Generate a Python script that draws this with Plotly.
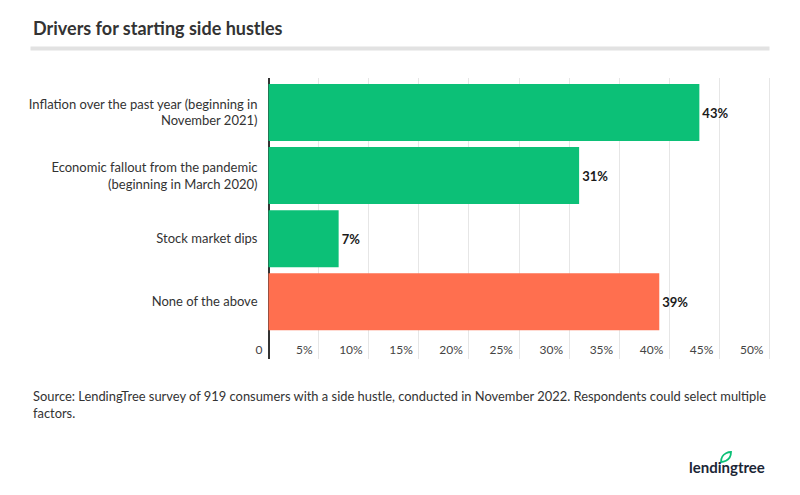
import plotly.graph_objects as go

categories = [
    "Inflation over the past year (beginning in<br>November 2021)",
    "Economic fallout from the pandemic<br>(beginning in March 2020)",
    "Stock market dips",
    "None of the above",
]
values = [43, 31, 7, 39]
bar_colors = ["#0CC077", "#0CC077", "#0CC077", "#FF6F4F"]
tick_values = [0, 5, 10, 15, 20, 25, 30, 35, 40, 45, 50]
tick_labels = ["0", "5%", "10%", "15%", "20%", "25%", "30%", "35%", "40%", "45%", "50%"]

title_text = "Drivers for starting side hustles"
source_text = ("Source: LendingTree survey of 919 consumers with a side hustle, conducted in November 2022. "
               "Respondents could select multiple<br>factors.")

# page body adds an 8px margin; work in screen pixels and subtract it
OFF = 8
W, H = 800 - OFF, 495 - OFF
PLOT_L, PLOT_R, PLOT_T, PLOT_B = 241 - OFF, 775 - OFF, 78 - OFF, 359 - OFF
ML, MR, MT, MB = PLOT_L, W - PLOT_R, PLOT_T, H - PLOT_B
PW = W - ML - MR
PH = H - MT - MB

ZERO_PX = 268.5 - OFF
FIFTY_PX = 769.5 - OFF
UNIT = (FIFTY_PX - ZERO_PX) / 50.0
XMIN = -(ZERO_PX - PLOT_L) / UNIT
XMAX = (PLOT_R - ZERO_PX) / UNIT


def px_x(px):
    return (px - OFF - ML) / PW


def px_y(py):
    return (H - MB - (py - OFF)) / PH


fig = go.Figure()
fig.add_trace(go.Bar(
    x=values,
    y=categories,
    orientation="h",
    marker=dict(color=bar_colors, line=dict(width=0)),
    text=[f"{v}%" for v in values],
    textposition="outside",
    textfont=dict(family="Lato", size=13, color="#1a1a1a", weight="bold"),
    cliponaxis=False,
    width=0.903,
    hoverinfo="skip",
))

fig.update_layout(
    width=W, height=H,
    margin=dict(l=ML, r=MR, t=MT, b=MB, pad=0),
    paper_bgcolor="white",
    plot_bgcolor="white",
    showlegend=False,
    font=dict(family="Lato", color="#333333"),
    xaxis=dict(
        range=[XMIN, XMAX],
        tickvals=tick_values,
        ticktext=tick_labels,
        ticklabelposition="inside left",
        ticklabelstandoff=-3,
        ticklabelshift=-6,
        ticks="",
        showgrid=True,
        gridcolor="#e6e6e6",
        gridwidth=1,
        zeroline=True,
        zerolinecolor="#333333",
        zerolinewidth=2,
        showline=False,
        tickfont=dict(family="Lato", size=12, color="#444444"),
        fixedrange=True,
    ),
    yaxis=dict(
        categoryorder="array",
        categoryarray=categories,
        range=[3.908, -0.547],
        anchor="free",
        position=(ZERO_PX - ML) / PW,
        showgrid=False,
        zeroline=False,
        showline=False,
        ticks="",
        ticklabelstandoff=11,
        tickfont=dict(family="Lato", size=13, color="#333333"),
        fixedrange=True,
    ),
)

fig.add_annotation(
    text=title_text, xref="paper", yref="paper",
    x=px_x(31), y=px_y(28), xanchor="left", yanchor="middle",
    showarrow=False, font=dict(family="Lato", size=18, color="#333333", weight="bold"),
)
fig.add_shape(
    type="rect", xref="paper", yref="paper",
    x0=px_x(30.5), x1=px_x(769.5), y0=px_y(50.5), y1=px_y(46.5),
    fillcolor="#e2e2e2", line=dict(width=0),
)
fig.add_annotation(
    text=source_text, xref="paper", yref="paper",
    x=px_x(31), y=px_y(386), xanchor="left", yanchor="top", align="left",
    showarrow=False, font=dict(family="Lato", size=12.9, color="#333333"),
)
fig.add_annotation(
    text="lendingtree", xref="paper", yref="paper",
    x=px_x(767), y=px_y(467), xanchor="right", yanchor="middle",
    showarrow=False, font=dict(family="Lato", size=15, color="#1c2636", weight="bold"),
)
# small leaf mark of the logo
lx0, ly0 = px_x(721), px_y(462)
lx1, ly1 = px_x(731), px_y(452)
fig.add_shape(
    type="path", xref="paper", yref="paper",
    path=(f"M {lx0} {ly0} C {lx0} {ly1} {lx1} {ly1} {lx1} {ly1} "
          f"C {lx1} {ly0} {lx0} {ly0} {lx0} {ly0} Z"),
    line=dict(color="#0CC077", width=1.8), fillcolor="rgba(0,0,0,0)",
)

fig.write_html("out.html")
